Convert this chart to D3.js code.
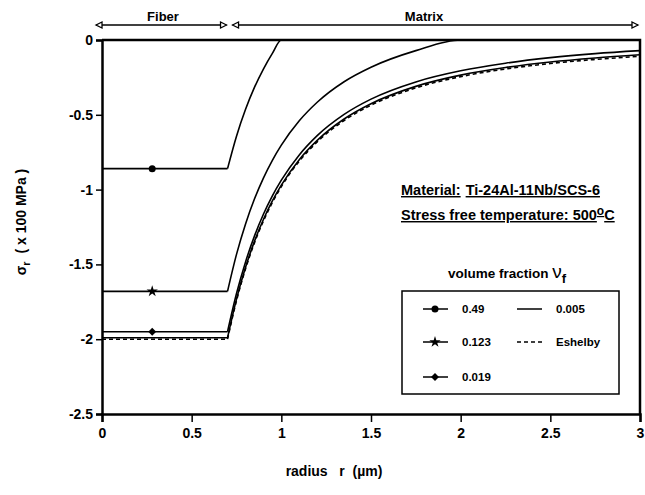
<!DOCTYPE html>
<html>
<head>
<meta charset="utf-8">
<script src="https://cdn.jsdelivr.net/npm/d3@7"></script>
<style>
  body { margin: 0; background: #fff; }
  text { font-family: "Liberation Sans", Arial, sans-serif; fill: #000; }
</style>
</head>
<body>
<svg width="645" height="495"></svg>
<script>
var svg = d3.select('svg');

// radius samples (um) and sigma_r (x100 MPa)
var radius  = [0, 0.7, 0.75, 0.8, 0.85, 0.9, 0.95, 1.0, 1.1, 1.2, 1.35, 1.5, 1.75, 2.0, 2.25, 2.5, 2.75, 3.0];
var vf049   = [-0.86, -0.86, -0.643, -0.465, -0.317, -0.194, -0.089, 0, 0, 0, 0, 0, 0, 0, 0, 0, 0, 0];
var vf0123  = [-1.68, -1.68, -1.433, -1.231, -1.063, -0.923, -0.804, -0.703, -0.540, -0.416, -0.279, -0.182, -0.071, 0, 0, 0, 0, 0];
var vf0019  = [-1.95, -1.95, -1.695, -1.485, -1.311, -1.165, -1.042, -0.937, -0.768, -0.639, -0.497, -0.395, -0.280, -0.206, -0.155, -0.118, -0.091, -0.071];
var vf0005  = [-1.99, -1.99, -1.732, -1.521, -1.346, -1.200, -1.076, -0.970, -0.800, -0.671, -0.528, -0.426, -0.310, -0.235, -0.184, -0.147, -0.120, -0.099];
var eshelby = [-2.00, -2.00, -1.742, -1.531, -1.356, -1.210, -1.086, -0.980, -0.810, -0.681, -0.538, -0.436, -0.320, -0.245, -0.194, -0.157, -0.130, -0.109];

var xTicks = [0, 0.5, 1, 1.5, 2, 2.5, 3];
var yTicks = [0, -0.5, -1, -1.5, -2, -2.5];
var markerR = 0.28;
var fiberEnd = 0.7;

var x = d3.scaleLinear().domain([0, 3]).range([102, 640]);
var y = d3.scaleLinear().domain([0, -2.5]).range([40, 414]);

// axes
var gx = svg.append('g').attr('transform', 'translate(0,414)');
gx.call(d3.axisBottom(x).tickValues(d3.range(0, 3.001, 0.1)).tickSize(4).tickFormat(''));
gx.call(d3.axisBottom(x).tickValues(xTicks).tickSize(8).tickFormat(function(d) { return String(d) }));
gx.selectAll('text').attr('y', 14).style('font-size', '14px').style('font-weight', 'bold');

var gy = svg.append('g').attr('transform', 'translate(102,0)');
gy.call(d3.axisLeft(y).tickValues(d3.range(0, -2.501, -0.1)).tickSize(3).tickFormat(''));
gy.call(d3.axisLeft(y).tickValues(yTicks).tickSize(6).tickFormat(function(d) { return String(d) }));
gy.selectAll('text').attr('x', -9).style('font-size', '14px').style('font-weight', 'bold');

svg.selectAll('.domain').attr('stroke-width', 2.5);
svg.selectAll('.tick line').attr('stroke-width', 1.5);

// top and right frame
svg.append('path').attr('d', 'M' + x(0) + ',' + y(0) + 'H' + x(3) + 'V' + y(-2.5))
  .attr('fill', 'none').attr('stroke', '#000').attr('stroke-width', 2.5);

// curves
var series = [
  { v: vf049, dash: null },
  { v: vf0123, dash: null },
  { v: vf0019, dash: null },
  { v: vf0005, dash: null },
  { v: eshelby, dash: '4,3' }
];

function pts(v, inFiber) {
  return radius.map(function(r, i) { return [r, v[i]] })
    .filter(function(p) { return inFiber ? p[0] <= fiberEnd : p[0] >= fiberEnd });
}

var fiberLine = d3.line().x(function(d) { return x(d[0]) }).y(function(d) { return y(d[1]) });
var matrixLine = d3.line().x(function(d) { return x(d[0]) }).y(function(d) { return y(d[1]) }).curve(d3.curveMonotoneX);

series.forEach(function(s) {
  [fiberLine(pts(s.v, true)), matrixLine(pts(s.v, false))].forEach(function(dd) {
    svg.append('path').attr('d', dd).attr('fill', 'none').attr('stroke', '#000')
      .attr('stroke-width', 1.6).attr('stroke-dasharray', s.dash);
  });
});

// markers (fiber part is flat, so the first value holds)
var star = d3.symbol().type(d3.symbolStar).size(40);
var diamond = d3.symbol().type(d3.symbolDiamond2).size(40);
function circleM(g) { g.append('circle').attr('r', 3.5) }
function starM(g) { g.append('path').attr('d', star()) }
function diamondM(g) { g.append('path').attr('d', diamond()) }

[[vf049, circleM], [vf0123, starM], [vf0019, diamondM]].forEach(function(m) {
  var g = svg.append('g').attr('transform', 'translate(' + x(markerR) + ',' + y(m[0][0]) + ')');
  m[1](g);
});

// Fiber / Matrix arrows
function arrow(x1, x2, yy) {
  svg.append('line').attr('x1', x1).attr('x2', x2).attr('y1', yy).attr('y2', yy)
    .attr('stroke', '#000').attr('stroke-width', 1.5);
  svg.append('path').attr('d', 'M' + x1 + ',' + yy + 'l6,-3v6z')
    .attr('fill', '#fff').attr('stroke', '#000').attr('stroke-width', 1.3);
  svg.append('path').attr('d', 'M' + x2 + ',' + yy + 'l-6,-3v6z')
    .attr('fill', '#fff').attr('stroke', '#000').attr('stroke-width', 1.3);
}
arrow(x(0) - 6, x(fiberEnd) - 1, 25);
arrow(x(fiberEnd) + 5, x(3) - 2, 25);
svg.append('text').attr('x', 163).attr('y', 21).attr('text-anchor', 'middle')
  .style('font-size', '13px').style('font-weight', 'bold').text('Fiber');
svg.append('text').attr('x', 424).attr('y', 21).attr('text-anchor', 'middle')
  .style('font-size', '13px').style('font-weight', 'bold').text('Matrix');

// material notes
function ul(xx, yy) {
  return svg.append('text').attr('x', xx).attr('y', yy)
    .style('font-size', '14.5px').style('font-weight', 'bold').style('text-decoration', 'underline');
}
var t1 = ul(401, 195);
t1.append('tspan').text('Material:');
t1.append('tspan').attr('dx', 5).text('Ti-24Al-11Nb/SCS-6');
var t2 = ul(401, 220);
t2.append('tspan').text('Stress free temperature: 500');
t2.append('tspan').attr('dy', -5).style('font-size', '12px').text('o');
t2.append('tspan').attr('dy', 5).text('C');

// legend
var lt = svg.append('text').attr('x', 448).attr('y', 278).style('font-size', '13.5px').style('font-weight', 'bold');
lt.append('tspan').text('volume fraction  ');
lt.append('tspan').style('font-size', '19px').style('font-weight', 'normal').text('\u03bd');
lt.append('tspan').attr('dy', 5).style('font-size', '13px').text('f');

svg.append('rect').attr('x', 402).attr('y', 291).attr('width', 217).attr('height', 103)
  .attr('fill', '#fff').attr('stroke', '#000').attr('stroke-width', 1.5);

var legendItems = [
  { label: '0.49', m: circleM, dash: null, lx: 423, ly: 309 },
  { label: '0.123', m: starM, dash: null, lx: 423, ly: 342 },
  { label: '0.019', m: diamondM, dash: null, lx: 423, ly: 377 },
  { label: '0.005', m: null, dash: null, lx: 517, ly: 309 },
  { label: 'Eshelby', m: null, dash: '4,3', lx: 517, ly: 342 }
];
legendItems.forEach(function(d) {
  svg.append('line').attr('x1', d.lx).attr('x2', d.lx + 25).attr('y1', d.ly).attr('y2', d.ly)
    .attr('stroke', '#000').attr('stroke-width', 1.5).attr('stroke-dasharray', d.dash);
  if (d.m) {
    var g = svg.append('g').attr('transform', 'translate(' + (d.lx + 12) + ',' + d.ly + ')');
    d.m(g);
  }
  svg.append('text').attr('x', d.lx + 39).attr('y', d.ly + 4)
    .style('font-size', '11.5px').style('font-weight', 'bold').text(d.label);
});

// axis titles
var yl = svg.append('text').attr('transform', 'translate(26,222) rotate(-90)')
  .attr('text-anchor', 'middle').style('font-size', '14px').style('font-weight', 'bold');
yl.append('tspan').text('\u03c3');
yl.append('tspan').attr('dy', 4).style('font-size', '11px').text('r');
yl.append('tspan').attr('dy', -4).style('white-space', 'pre').text('  ( x 100 MPa )');

svg.append('text').attr('x', 334).attr('y', 476).attr('text-anchor', 'middle')
  .style('font-size', '14px').style('font-weight', 'bold').style('white-space', 'pre')
  .text('radius   r  (\u00b5m)');
</script>
</body>
</html>
